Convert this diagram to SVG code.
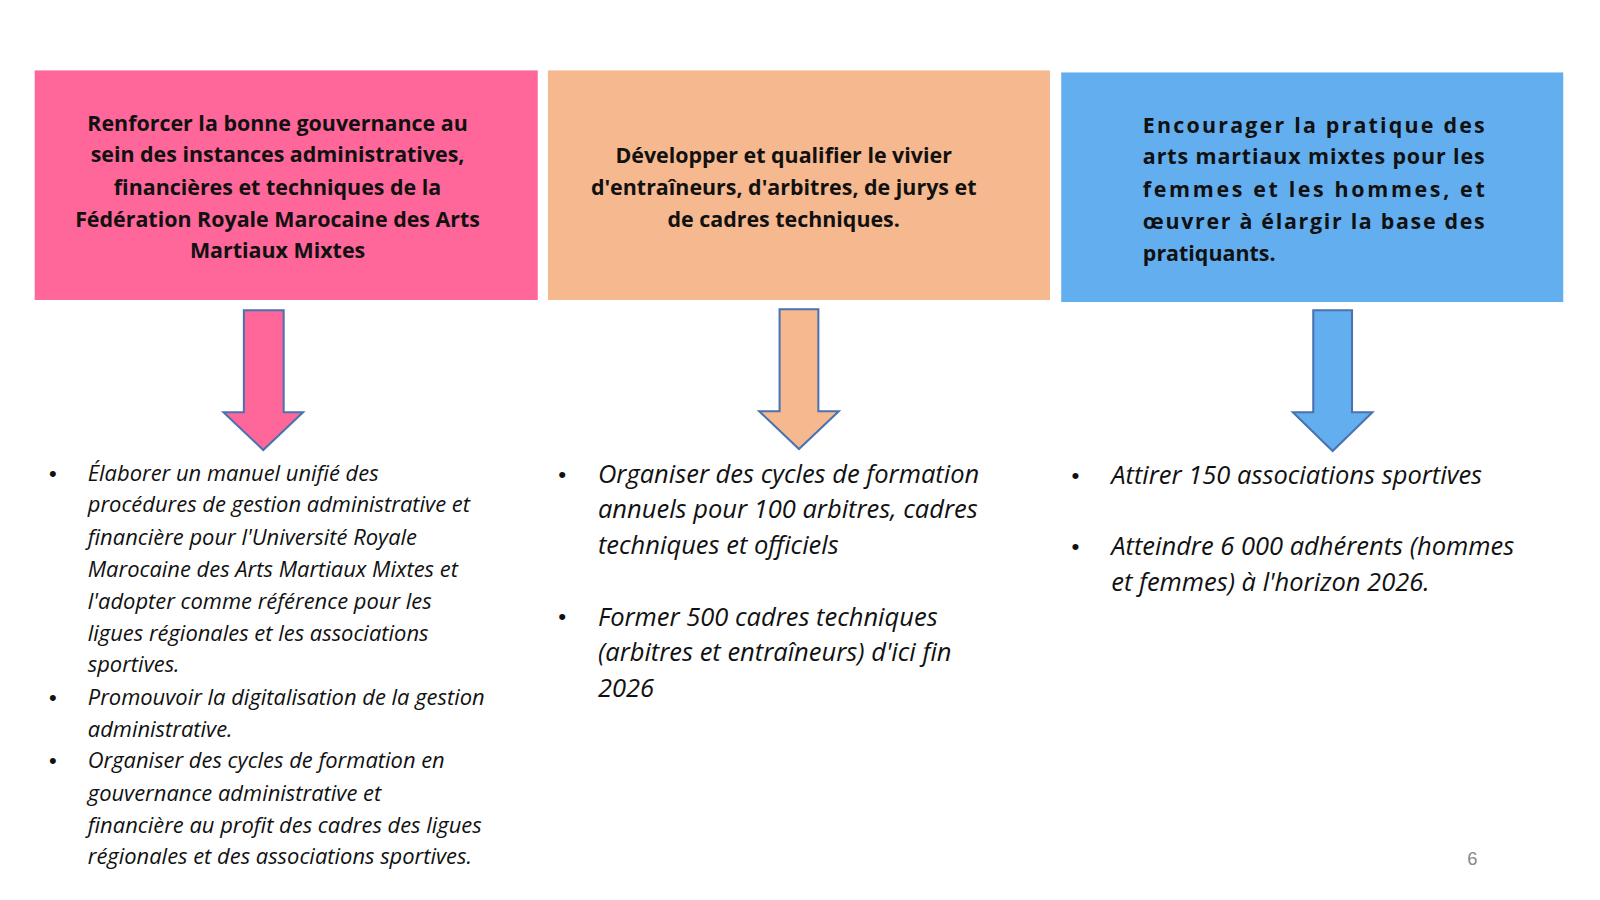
<svg xmlns="http://www.w3.org/2000/svg" width="1600" height="900" viewBox="0 0 1600 900">
<style>
.h{font-family:"Open Sans",Lato,sans-serif;font-weight:bold;font-size:21px;fill:#111}
.c{text-anchor:middle}
.l{font-family:"Open Sans",Lato,sans-serif;font-style:italic;font-size:21.5px;fill:#111}
.m{font-family:"Open Sans",Lato,sans-serif;font-style:italic;font-size:25px;fill:#111}
.b{font-family:"Liberation Sans",sans-serif;font-style:normal}
.ar{stroke:#4a72b0;stroke-width:2}
</style>
<rect width="1600" height="900" fill="#fff"/>
<g transform="scale(1.0204)">
<g id="box1"><rect x="34" y="69" width="493" height="225" fill="#FF6699"/>
<text class="h c"><tspan x="272" y="128">Renforcer la bonne gouvernance au</tspan><tspan x="272" y="159">sein des instances administratives,</tspan><tspan x="272" y="191">financières et techniques de la</tspan><tspan x="272" y="222">Fédération Royale Marocaine des Arts</tspan><tspan x="272" y="253">Martiaux Mixtes</tspan></text></g>
<g id="box2"><rect x="537" y="69" width="492" height="225" fill="#F6B88F"/>
<text class="h c"><tspan x="768" y="160">Développer et qualifier le vivier</tspan><tspan x="768" y="191">d'entraîneurs, d'arbitres, de jurys et</tspan><tspan x="768" y="222">de cadres techniques.</tspan></text></g>
<g id="box3"><rect x="1040" y="71" width="492" height="225" fill="#63AEEE"/>
<text class="h"><tspan x="1120" y="130" textLength="335" lengthAdjust="spacing">Encourager la pratique des</tspan><tspan x="1120" y="161" textLength="335" lengthAdjust="spacing">arts martiaux mixtes pour les</tspan><tspan x="1120" y="193" textLength="335" lengthAdjust="spacing">femmes et les hommes, et</tspan><tspan x="1120" y="224" textLength="335" lengthAdjust="spacing">œuvrer à élargir la base des</tspan><tspan x="1120" y="256">pratiquants.</tspan></text></g>
<g id="connectors">
<polygon class="ar" fill="#FF6699" points="239,304 278,304 278,404 297,404 258,441 219,404 239,404"/>
<polygon class="ar" fill="#F6B88F" points="764,303 802,303 802,403 822,403 783,440 744,403 764,403"/>
<polygon class="ar" fill="#63AEEE" points="1287,304 1325,304 1325,404 1345,404 1306,442 1267,404 1287,404"/>
</g>
<g id="list1" class="l">
<text><tspan class="b" x="48" y="471">•</tspan><tspan x="86" y="471">Élaborer un manuel unifié des</tspan><tspan x="86" y="502">procédures de gestion administrative et</tspan><tspan x="86" y="534">financière pour l'Université Royale</tspan><tspan x="86" y="565">Marocaine des Arts Martiaux Mixtes et</tspan><tspan x="86" y="597">l'adopter comme référence pour les</tspan><tspan x="86" y="628">ligues régionales et les associations</tspan><tspan x="86" y="659">sportives.</tspan></text>
<text><tspan class="b" x="48" y="691">•</tspan><tspan x="86" y="691">Promouvoir la digitalisation de la gestion</tspan><tspan x="86" y="722">administrative.</tspan></text>
<text><tspan class="b" x="48" y="753">•</tspan><tspan x="86" y="753">Organiser des cycles de formation en</tspan><tspan x="86" y="785">gouvernance administrative et</tspan><tspan x="86" y="816">financière au profit des cadres des ligues</tspan><tspan x="86" y="847">régionales et des associations sportives.</tspan></text>
</g>
<g id="list2" class="m">
<text><tspan class="b" x="547" y="472" font-size="22">•</tspan><tspan x="586" y="473">Organiser des cycles de formation</tspan><tspan x="586" y="508">annuels pour 100 arbitres, cadres</tspan><tspan x="586" y="543">techniques et officiels</tspan></text>
<text><tspan class="b" x="547" y="612" font-size="22">•</tspan><tspan x="586" y="613">Former 500 cadres techniques</tspan><tspan x="586" y="648">(arbitres et entraîneurs) d'ici fin</tspan><tspan x="586" y="683">2026</tspan></text>
</g>
<g id="list3" class="m">
<text><tspan class="b" x="1050" y="473" font-size="22">•</tspan><tspan x="1089" y="474">Attirer 150 associations sportives</tspan></text>
<text><tspan class="b" x="1050" y="543" font-size="22">•</tspan><tspan x="1089" y="544">Atteindre 6 000 adhérents (hommes</tspan><tspan x="1089" y="579">et femmes) à l'horizon 2026.</tspan></text>
</g>
<text x="1443" y="848" font-family="Liberation Sans,sans-serif" font-size="18" fill="#888" text-anchor="middle">6</text>
</g>
</svg>
